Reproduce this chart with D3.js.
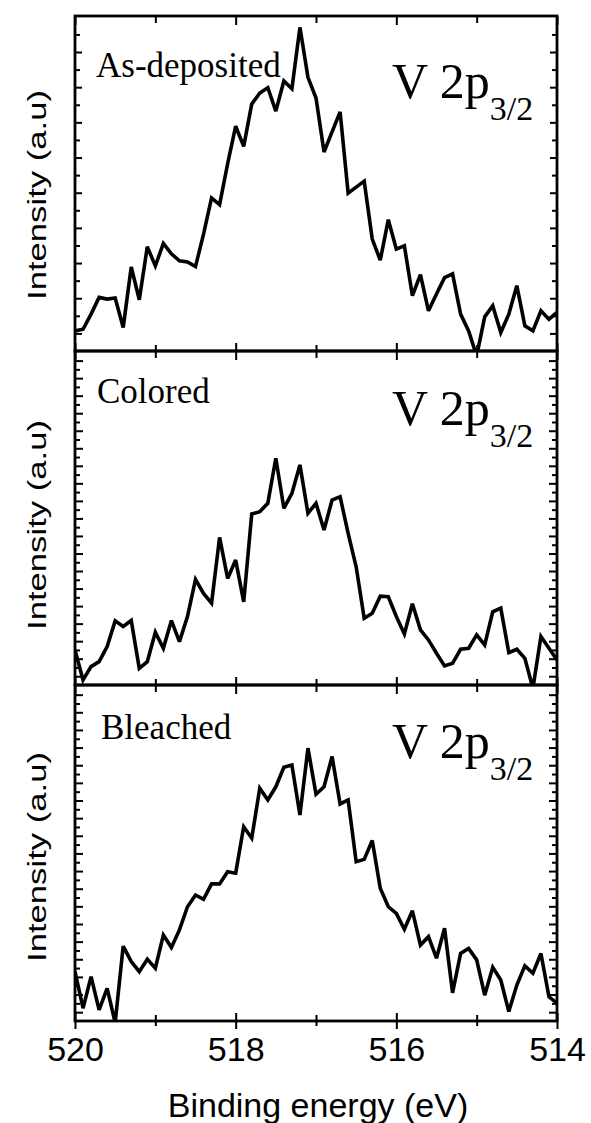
<!DOCTYPE html>
<html>
<head>
<meta charset="utf-8">
<script src="https://cdn.jsdelivr.net/npm/d3@7"></script>
<style>
  html, body { margin: 0; padding: 0; background: #fff; }
  svg { display: block; }
</style>
</head>
<body>
<svg id="chart" width="591" height="1123"></svg>
<script>
// ---------------- DATA ----------------
const energy = [520.0, 519.9, 519.8, 519.7, 519.6, 519.5, 519.4, 519.3, 519.2, 519.1,
  519.0, 518.9, 518.8, 518.7, 518.6, 518.5, 518.4, 518.3, 518.2, 518.1,
  518.0, 517.9, 517.8, 517.7, 517.6, 517.5, 517.4, 517.3, 517.2, 517.1,
  517.0, 516.9, 516.8, 516.7, 516.6, 516.5, 516.4, 516.3, 516.2, 516.1,
  516.0, 515.9, 515.8, 515.7, 515.6, 515.5, 515.4, 515.3, 515.2, 515.1,
  515.0, 514.9, 514.8, 514.7, 514.6, 514.5, 514.4, 514.3, 514.2, 514.1, 514.0];

const asDeposited = [6.0, 6.5, 11.0, 16.0, 15.5, 15.8, 7.0, 25.1, 15.3, 31.1,
  25.4, 32.1, 29.0, 26.9, 26.6, 25.2, 34.9, 45.7, 43.7, 55.9,
  67.1, 61.1, 73.7, 77.0, 78.6, 71.6, 80.6, 78.3, 96.6, 81.7,
  75.5, 59.4, 65.4, 71.4, 47.1, 48.9, 50.7, 33.4, 27.1, 39.2,
  30.4, 31.4, 16.5, 22.8, 12.0, 17.0, 21.9, 23.0, 11.0, 6.0,
  -1.5, 10.2, 13.5, 5.5, 11.0, 19.5, 7.5, 6.0, 12.0, 9.5, 11.5];

const colored = [10.5, 1.5, 5.5, 7.0, 11.5, 19.2, 17.5, 19.3, 5.0, 7.0,
  15.8, 11.0, 19.3, 13.0, 20.5, 31.6, 27.4, 24.5, 44.2, 31.9,
  37.4, 24.9, 51.2, 51.9, 54.4, 67.9, 52.9, 57.4, 65.9, 51.4,
  54.4, 46.4, 55.4, 56.4, 45.4, 35.4, 20.0, 21.5, 26.6, 26.4,
  20.5, 15.3, 24.3, 16.5, 13.5, 9.5, 5.7, 6.5, 10.7, 11.0,
  15.0, 12.0, 21.9, 23.0, 9.7, 10.7, 8.0, -1.0, 14.5, 11.0, 7.5];

const bleached = [14.7, 3.8, 13.2, 3.3, 9.7, -0.5, 22.3, 17.7, 14.7, 18.4,
  15.7, 25.6, 21.9, 27.1, 34.0, 37.5, 36.2, 40.8, 40.8, 44.4,
  44.0, 57.8, 54.4, 69.3, 65.8, 69.7, 75.5, 76.2, 61.3, 81.2,
  67.5, 69.7, 78.7, 64.6, 65.8, 47.4, 48.1, 53.7, 39.5, 34.0,
  32.0, 27.3, 32.8, 22.6, 25.1, 18.7, 27.6, 8.4, 20.1, 21.6,
  18.2, 7.7, 16.0, 12.2, 2.8, 10.7, 16.4, 14.2, 20.1, 7.2, 5.3];

const panelNames = ["As-deposited", "Colored", "Bleached"];
const seriesList = [asDeposited, colored, bleached];
const xMajorTicks = [520, 518, 516, 514];
const xMinorTicks = [519, 517, 515];
const xTickLabels = ["520", "518", "516", "514"];
const yDomain = [0, 100];
const yTickSteps = [5.25, 2.625, 2.625];   // tick spacing (a.u.) per panel
const yTitle = "Intensity (a.u)";
const xTitle = "Binding energy (eV)";
const peakLabelMain = "V 2p";
const peakLabelSub = "3/2";

// ---------------- LAYOUT ----------------
const svg = d3.select("#chart");
const left = 75, right = 557;
const panelTops = [16, 351, 685];
const panelBottoms = [351, 685, 1021];
const titleCenters = [195, 525, 857];
const labelBaselines = [77, 403, 739];
const labelXs = [96, 97, 101];
const peakBaselines = [98, 425, 758];

const x = d3.scaleLinear().domain([520, 514]).range([left, right]);

seriesList.forEach((vals, i) => {
  const top = panelTops[i], bottom = panelBottoms[i];
  const y = d3.scaleLinear().domain(yDomain).range([bottom, top]);
  const g = svg.append("g");

  const clipId = "clip" + i;
  svg.append("clipPath").attr("id", clipId)
    .append("rect").attr("x", left).attr("y", top)
    .attr("width", right - left).attr("height", bottom - top);

  const step = yTickSteps[i];
  const allY = d3.range(0, yDomain[1] + 0.001, step).filter(v => y(v) > top + 3 && y(v) < bottom - 3);
  const yMajor = allY.filter((v, k) => k % 2 === 0);
  const yMinor = allY.filter((v, k) => k % 2 === 1);
  const majLen = i === 0 ? 7 : 8, minLen = 5;

  const styleAxis = sel => {
    sel.select(".domain").remove();
    sel.selectAll(".tick line").attr("stroke", "#000").attr("stroke-width", 2);
  };

  g.append("g").attr("transform", `translate(${left},0)`)
    .call(d3.axisLeft(y).tickValues(yMajor).tickSize(-majLen).tickFormat(""))
    .call(styleAxis);
  g.append("g").attr("transform", `translate(${left},0)`)
    .call(d3.axisLeft(y).tickValues(yMinor).tickSize(-minLen).tickFormat(""))
    .call(styleAxis);
  g.append("g").attr("transform", `translate(${right},0)`)
    .call(d3.axisRight(y).tickValues(yMajor).tickSize(-majLen).tickFormat(""))
    .call(styleAxis);
  g.append("g").attr("transform", `translate(${right},0)`)
    .call(d3.axisRight(y).tickValues(yMinor).tickSize(-minLen).tickFormat(""))
    .call(styleAxis);

  g.append("g").attr("transform", `translate(0,${top})`)
    .call(d3.axisTop(x).tickValues(xMajorTicks).tickSize(-9).tickFormat(""))
    .call(styleAxis);
  g.append("g").attr("transform", `translate(0,${top})`)
    .call(d3.axisTop(x).tickValues(xMinorTicks).tickSize(-7).tickFormat(""))
    .call(styleAxis);
  g.append("g").attr("transform", `translate(0,${bottom})`)
    .call(d3.axisBottom(x).tickValues(xMajorTicks).tickSize(-8).tickFormat(""))
    .call(styleAxis);
  g.append("g").attr("transform", `translate(0,${bottom})`)
    .call(d3.axisBottom(x).tickValues(xMinorTicks).tickSize(-6).tickFormat(""))
    .call(styleAxis);

  const line = d3.line().x((d, k) => x(energy[k])).y(d => y(d));
  g.append("path").datum(vals)
    .attr("clip-path", `url(#${clipId})`)
    .attr("fill", "none").attr("stroke", "#000")
    .attr("stroke-width", 3.6).attr("stroke-linejoin", "miter").attr("stroke-miterlimit", 3)
    .attr("d", line);

  g.append("rect").attr("x", left).attr("y", top)
    .attr("width", right - left).attr("height", bottom - top)
    .attr("fill", "none").attr("stroke", "#000").attr("stroke-width", 2.8);

  g.append("text")
    .attr("transform", `translate(46,${titleCenters[i]}) rotate(-90)`)
    .attr("text-anchor", "middle")
    .attr("font-family", "Liberation Sans, Arial, sans-serif")
    .attr("font-size", 26)
    .attr("textLength", 210).attr("lengthAdjust", "spacingAndGlyphs")
    .attr("fill", "#000")
    .text(yTitle);

  g.append("text")
    .attr("x", labelXs[i]).attr("y", labelBaselines[i])
    .attr("font-family", "Liberation Serif, 'Times New Roman', serif")
    .attr("font-size", 35).attr("fill", "#000")
    .text(panelNames[i]);

  const pt = g.append("text")
    .attr("x", 392).attr("y", peakBaselines[i])
    .attr("font-family", "Liberation Serif, 'Times New Roman', serif")
    .attr("font-size", 50).attr("fill", "#000");
  pt.append("tspan").text(peakLabelMain);
  pt.append("tspan").attr("font-size", 34).attr("dy", 22).text(peakLabelSub);
});

const lastBottom = panelBottoms[2];
const bAxis = svg.append("g").attr("transform", `translate(0,${lastBottom})`)
  .call(d3.axisBottom(x).tickValues(xMajorTicks).tickSize(8).tickPadding(8)
    .tickFormat((d, k) => xTickLabels[k]));
bAxis.select(".domain").remove();
bAxis.selectAll(".tick line").attr("stroke", "#000").attr("stroke-width", 2);
bAxis.selectAll(".tick text")
  .attr("font-family", "Liberation Sans, Arial, sans-serif")
  .attr("font-size", 34).attr("fill", "#000");
const bMinor = svg.append("g").attr("transform", `translate(0,${lastBottom})`)
  .call(d3.axisBottom(x).tickValues(xMinorTicks).tickSize(5).tickFormat(""));
bMinor.select(".domain").remove();
bMinor.selectAll(".tick line").attr("stroke", "#000").attr("stroke-width", 2);

svg.append("text")
  .attr("x", 318).attr("y", 1117)
  .attr("text-anchor", "middle")
  .attr("font-family", "Liberation Sans, Arial, sans-serif")
  .attr("font-size", 34).attr("fill", "#000")
  .text(xTitle);
</script>
</body>
</html>
